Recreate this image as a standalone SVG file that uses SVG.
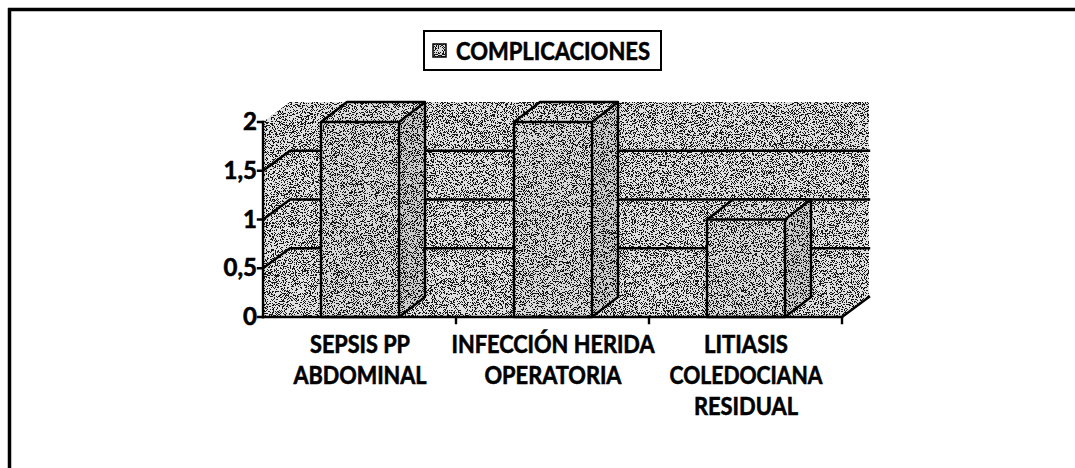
<svg xmlns="http://www.w3.org/2000/svg" width="1075" height="468" viewBox="0 0 1075 468">
<style>
.lbl{font-family:Lato,"Liberation Sans",sans-serif;font-weight:700;font-size:24px;fill:#000;stroke:#000;stroke-width:0.6}
.ttl{font-family:Lato,"Liberation Sans",sans-serif;font-weight:700;font-size:25px;fill:#000;stroke:#000;stroke-width:0.6}
.ln{stroke:#000;stroke-width:2.4;fill:none;stroke-linecap:square}
.bar{stroke:#000;stroke-width:2.4;stroke-linejoin:round}
.wall{fill:#e0e0e0}
.front{fill:#d8d8d8}
.side{fill:#cacaca}
.top{fill:#dcdcdc}
</style>
<defs>
<filter id="stip" x="0" y="0" width="1" height="1" color-interpolation-filters="sRGB">
<feTurbulence type="fractalNoise" baseFrequency="1.1" numOctaves="2" seed="7" result="noise"/>
<feColorMatrix in="noise" type="matrix" values="0 0 0 0 0  0 0 0 0 0  0 0 0 0 0  1 0 0 0 0" result="a"/>
<feComponentTransfer in="a" result="dots"><feFuncA type="discrete" tableValues="0 0 0 0 0 0 0 0 0 0 0 0.9 0.9 0.9 0.9 0.9 0.9 0.9 0.9 0.9"/></feComponentTransfer>
<feComposite in="dots" in2="SourceGraphic" operator="in" result="clip"/>
<feMerge><feMergeNode in="SourceGraphic"/><feMergeNode in="clip"/></feMerge>
</filter>
</defs>
<rect width="1075" height="468" fill="#fff"/>
<g id="frame">
<line x1="8" y1="9.5" x2="1075" y2="9.5" stroke="#000" stroke-width="3.5"/>
<line x1="9.5" y1="8" x2="9.5" y2="468" stroke="#000" stroke-width="3.5"/>
</g>
<g id="legend">
<rect x="424" y="31" width="237" height="39" fill="#fff" stroke="#000" stroke-width="2"/>
<rect x="433" y="44" width="13" height="13" class="front" filter="url(#stip)"/>
<rect x="433" y="44" width="13" height="13" fill="none" stroke="#000" stroke-width="1.5"/>
<text class="ttl" x="553" y="60" text-anchor="middle" textLength="194" lengthAdjust="spacingAndGlyphs">COMPLICACIONES</text>
</g>
<g id="plot-walls">
<polygon class="wall" filter="url(#stip)" points="263,122 290,102 869,102 869,297 842,317 263,317"/>
</g>
<g id="gridlines">
<polyline class="ln" points="263,268.25 290,248.25 869,248.25"/>
<polyline class="ln" points="263,219.5 290,199.5 869,199.5"/>
<polyline class="ln" points="263,170.75 290,150.75 869,150.75"/>
<line class="ln" x1="842" y1="317" x2="869" y2="297" stroke-width="1.2"/>
</g>
<g id="bar-sepsis">
<polygon class="side" filter="url(#stip)" points="399,122 425,102 425,297 399,317"/>
<polygon class="top" filter="url(#stip)" points="321,122 347,102 425,102 399,122"/>
<rect class="front" filter="url(#stip)" x="321" y="122" width="78" height="195"/>
<polygon class="bar" fill="none" points="321,317 321,122 347,102 425,102 425,297 399,317"/>
<polyline class="bar" fill="none" points="321,122 399,122 425,102"/>
<line class="bar" x1="399" y1="122" x2="399" y2="317"/>
</g>
<g id="bar-infeccion">
<polygon class="side" filter="url(#stip)" points="592,122 618,102 618,297 592,317"/>
<polygon class="top" filter="url(#stip)" points="514,122 540,102 618,102 592,122"/>
<rect class="front" filter="url(#stip)" x="514" y="122" width="78" height="195"/>
<polygon class="bar" fill="none" points="514,317 514,122 540,102 618,102 618,297 592,317"/>
<polyline class="bar" fill="none" points="514,122 592,122 618,102"/>
<line class="bar" x1="592" y1="122" x2="592" y2="317"/>
</g>
<g id="bar-litiasis">
<polygon class="side" filter="url(#stip)" points="785,219.5 811,199.5 811,297 785,317"/>
<polygon class="top" filter="url(#stip)" points="707,219.5 733,199.5 811,199.5 785,219.5"/>
<rect class="front" filter="url(#stip)" x="707" y="219.5" width="78" height="97.5"/>
<polygon class="bar" fill="none" points="707,317 707,219.5 733,199.5 811,199.5 811,297 785,317"/>
<polyline class="bar" fill="none" points="707,219.5 785,219.5 811,199.5"/>
<line class="bar" x1="785" y1="219.5" x2="785" y2="317"/>
</g>
<g id="axes">
<line class="ln" x1="263" y1="122" x2="263" y2="317"/>
<line class="ln" x1="263" y1="317" x2="842" y2="317"/>
<path class="ln" d="M258 122H263M258 170.75H263M258 219.5H263M258 268.25H263M258 317H263"/>
<path class="ln" d="M456 317V323M649 317V323M842 317V323"/>
</g>
<g id="value-labels">
<text class="lbl" x="257" y="130" text-anchor="end">2</text>
<text class="lbl" x="257" y="178.75" text-anchor="end">1,5</text>
<text class="lbl" x="257" y="227.5" text-anchor="end">1</text>
<text class="lbl" x="257" y="276.25" text-anchor="end">0,5</text>
<text class="lbl" x="257" y="325" text-anchor="end">0</text>
</g>
<g id="category-labels">
<text class="lbl" x="360" y="353" text-anchor="middle" textLength="100" lengthAdjust="spacingAndGlyphs">SEPSIS PP</text>
<text class="lbl" x="360" y="384" text-anchor="middle" textLength="133" lengthAdjust="spacingAndGlyphs">ABDOMINAL</text>
<text class="lbl" x="553" y="353" text-anchor="middle" textLength="203" lengthAdjust="spacingAndGlyphs">INFECCIÓN HERIDA</text>
<text class="lbl" x="553" y="384" text-anchor="middle" textLength="137" lengthAdjust="spacingAndGlyphs">OPERATORIA</text>
<text class="lbl" x="746" y="353" text-anchor="middle" textLength="84" lengthAdjust="spacingAndGlyphs">LITIASIS</text>
<text class="lbl" x="746" y="384" text-anchor="middle" textLength="153" lengthAdjust="spacingAndGlyphs">COLEDOCIANA</text>
<text class="lbl" x="746" y="415" text-anchor="middle" textLength="104" lengthAdjust="spacingAndGlyphs">RESIDUAL</text>
</g>
</svg>
